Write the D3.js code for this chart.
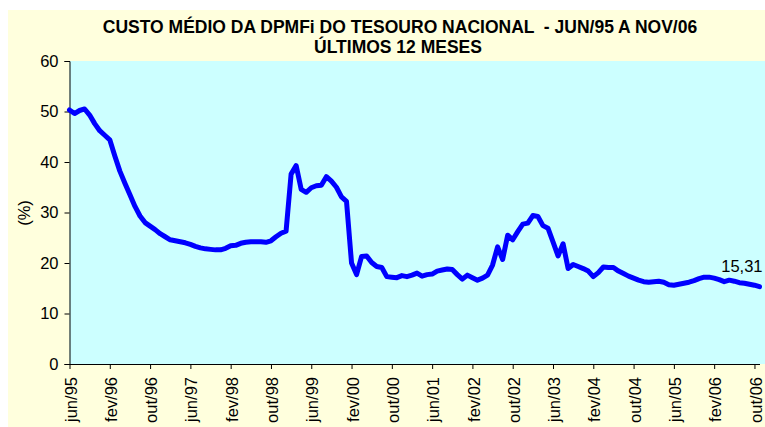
<!DOCTYPE html>
<html>
<head>
<meta charset="utf-8">
<script src="https://cdn.jsdelivr.net/npm/d3@7"></script>
<style>
  body { margin: 0; background: #fff; }
  svg text { font-family: Arial, "Liberation Sans", sans-serif; fill: #000; }
</style>
</head>
<body>
<div id="chart"></div>
<script>
// monthly cost, jun/95 .. nov/06 (%)
var monthNames = ['jan','fev','mar','abr','mai','jun','jul','ago','set','out','nov','dez'];
var values = [
  50.3, 49.6, 50.2, 50.5, 49.3, 47.6, 46.2, 45.3, 44.4, 41.2,
  38.2, 35.8, 33.5, 31.2, 29.3, 28.0, 27.3, 26.6, 25.8, 25.2,
  24.6, 24.4, 24.2, 24.0, 23.7, 23.3, 23.0, 22.8, 22.7, 22.6,
  22.6, 22.9, 23.4, 23.5, 23.9, 24.1, 24.2, 24.2, 24.2, 24.1,
  24.4, 25.2, 25.9, 26.3, 37.6, 39.3, 34.6, 34.0, 34.9, 35.3,
  35.4, 37.1, 36.2, 35.0, 33.1, 32.2, 20.0, 17.7, 21.3, 21.4,
  20.1, 19.3, 19.1, 17.3, 17.2, 17.1, 17.5, 17.3, 17.6, 18.0,
  17.4, 17.7, 17.8, 18.4, 18.6, 18.8, 18.7, 17.7, 16.8, 17.6,
  17.1, 16.6, 17.0, 17.6, 19.6, 23.2, 20.7, 25.5, 24.6, 26.2,
  27.7, 27.9, 29.4, 29.2, 27.4, 26.9, 24.2, 21.4, 23.8, 18.9,
  19.7, 19.3, 18.9, 18.4, 17.3, 18.1, 19.2, 19.1, 19.1, 18.4,
  17.9, 17.4, 17.0, 16.6, 16.3, 16.2, 16.3, 16.4, 16.2, 15.7,
  15.6, 15.8, 16.0, 16.2, 16.5, 16.9, 17.2, 17.2, 17.0, 16.7,
  16.3, 16.6, 16.4, 16.1, 16.0, 15.8, 15.6, 15.31
];
var tickLabels = ['jun/95','fev/96','out/96','jun/97','fev/98','out/98','jun/99','fev/00','out/00',
                  'jun/01','fev/02','out/02','jun/03','fev/04','out/04','jun/05','fev/06','out/06'];
var yTicks = [0, 10, 20, 30, 40, 50, 60];
var lastLabel = '15,31';

var months = [];
for (var i = 0; i < values.length; i++) {
  var m = (5 + i) % 12, yr = 95 + Math.floor((5 + i) / 12);
  months.push(monthNames[m] + '/' + String(yr % 100).padStart(2, '0'));
}
var data = months.map(function (d, i) { return { month: d, value: values[i] }; });

var W = 765, H = 427;
var plot = { left: 69.5, right: 765, top: 61, bottom: 364 };

var svg = d3.select('#chart').append('svg')
  .attr('width', W).attr('height', H);

svg.append('rect')
  .attr('x', 8).attr('y', 10)
  .attr('width', W - 8).attr('height', H - 10)
  .attr('fill', '#FFFFDD');

svg.append('rect')
  .attr('x', plot.left).attr('y', plot.top)
  .attr('width', plot.right - plot.left).attr('height', plot.bottom - plot.top)
  .attr('fill', '#CCFFFF');

var x = d3.scalePoint().domain(months).range([plot.left, 759.5]);
var y = d3.scaleLinear().domain([0, 60]).range([plot.bottom, plot.top]);

// title
svg.append('text')
  .attr('x', 400).attr('y', 33)
  .attr('text-anchor', 'middle')
  .attr('xml:space', 'preserve')
  .style('font-size', '17.5px').style('font-weight', 'bold')
  .text('CUSTO MÉDIO DA DPMFi DO TESOURO NACIONAL  - JUN/95 A NOV/06');
svg.append('text')
  .attr('x', 398).attr('y', 53)
  .attr('text-anchor', 'middle')
  .style('font-size', '17.5px').style('font-weight', 'bold')
  .text('ÚLTIMOS 12 MESES');

// y axis
var yAxis = svg.append('g')
  .attr('transform', 'translate(' + plot.left + ',0)')
  .call(d3.axisLeft(y).tickValues(yTicks).tickSize(5).tickPadding(6).tickFormat(d3.format('d')));
yAxis.selectAll('text').style('font-size', '16.5px');
yAxis.selectAll('line, path').attr('stroke', '#000');

svg.append('text')
  .attr('transform', 'translate(24,213) rotate(-90)')
  .attr('text-anchor', 'middle').attr('dy', '0.35em')
  .style('font-size', '16.5px')
  .text('(%)');

// x axis
var xAxis = svg.append('g')
  .attr('transform', 'translate(0,' + plot.bottom + ')')
  .call(d3.axisBottom(x).tickValues(tickLabels).tickSize(5).tickSizeOuter(0));
xAxis.select('.domain').attr('stroke', '#000');
xAxis.selectAll('line').attr('stroke', '#000');
xAxis.selectAll('text')
  .style('font-size', '16.5px')
  .attr('text-anchor', 'end')
  .attr('transform', 'rotate(-90)')
  .attr('x', -13).attr('y', 0).attr('dy', '0.4em');

// line
var line = d3.line()
  .x(function (d) { return x(d.month); })
  .y(function (d) { return y(d.value); });

svg.append('path')
  .datum(data)
  .attr('fill', 'none')
  .attr('stroke', '#0000FF')
  .attr('stroke-width', 5)
  .attr('stroke-linejoin', 'round')
  .attr('stroke-linecap', 'round')
  .attr('d', line);

var last = data[data.length - 1];
svg.append('text')
  .attr('x', x(last.month) + 3)
  .attr('y', y(last.value) - 15)
  .attr('text-anchor', 'end')
  .style('font-size', '16.5px')
  .text(lastLabel);
</script>
</body>
</html>
